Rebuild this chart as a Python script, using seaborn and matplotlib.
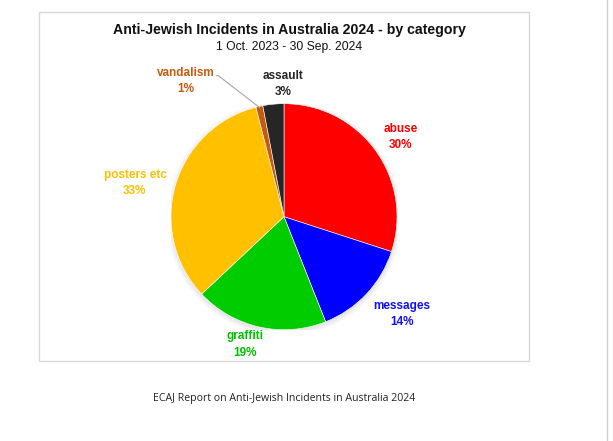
import matplotlib
matplotlib.use("Agg")
import matplotlib.pyplot as plt
import seaborn as sns
import numpy as np
from matplotlib.patches import Rectangle, Circle
from matplotlib.lines import Line2D

# data
categories = ["abuse", "messages", "graffiti", "posters etc", "vandalism", "assault"]
shares = [30, 14, 19, 33, 1, 3]

# styling
slice_colors = ["#FF0000", "#0000FF", "#00CC00", "#FFC000", "#C55A11", "#262626"]
label_colors = ["#FF0000", "#1010FF", "#00C000", "#FFC000", "#C55A11", "#262626"]
# label centres, in pie radius units
label_pos = [(1.035, 0.705), (1.044, -0.86), (-0.345, -1.131),
             (-1.319, 0.301), (-0.87, 1.199), (-0.006, 1.173)]

title = "Anti-Jewish Incidents in Australia 2024 - by category"
subtitle = "1 Oct. 2023 - 30 Sep. 2024"
caption = "ECAJ Report on Anti-Jewish Incidents in Australia 2024"

sns.set_theme(style="white")
plt.rcParams["font.family"] = ["Liberation Sans", "DejaVu Sans"]

W, H = 613, 441
fig = plt.figure(figsize=(W / 100, H / 100), dpi=100)
fig.patch.set_facecolor("white")

# chart frame and the page edge line
fig.add_artist(Rectangle((39 / W, (H - 361) / H), 490 / W, 349 / H, transform=fig.transFigure,
                         fill=False, edgecolor="#d9d9d9", lw=1.0, zorder=-1))
fig.add_artist(Line2D([607 / W, 607 / W], [0, 1], transform=fig.transFigure, color="#d0d0d0", lw=1.0))

fig.text(289 / W, 1 - 30 / H, title, ha="center", va="center", fontsize=10.2, fontweight="bold", color="#111111")
fig.text(289 / W, 1 - 47 / H, subtitle, ha="center", va="center", fontsize=8.7, color="#111111")
fig.text(284 / W, 1 - 399 / H, caption, ha="center", va="center", fontsize=7.6,
         family=["Liberation Sans Narrow", "Open Sans", "DejaVu Sans"], color="#222222")

cx, cy, r = 284, 216.7, 113
ax = fig.add_axes([(cx - r) / W, (H - cy - r) / H, 2 * r / W, 2 * r / H])

# soft shadow
for i in range(8):
    ax.add_patch(Circle((0.0, -0.015), 1.0 + 0.006 * i, color="#808080", alpha=0.025, lw=0, zorder=0))

wedges, _ = ax.pie(shares, colors=slice_colors, startangle=90, counterclock=False, radius=1,
                   wedgeprops=dict(edgecolor="white", linewidth=0.4))
ax.set_xlim(-1, 1)
ax.set_ylim(-1, 1)
ax.axis("off")

for cat, val, col, (lx, ly) in zip(categories, shares, label_colors, label_pos):
    ax.text(lx, ly, f"{cat}\n{val}%", ha="center", va="center", fontsize=8.5, fontweight="bold",
            color=col, linespacing=1.45, clip_on=False)

# leader line for the small vandalism slice
w = wedges[categories.index("vandalism")]
mid = np.deg2rad((w.theta1 + w.theta2) / 2)
ex, ey = 0.99 * np.cos(mid), 0.99 * np.sin(mid)
ax.plot([-0.599, -0.581, ex], [1.248, 1.248, ey], color="#a6a6a6", lw=0.8, clip_on=False)

fig.savefig("out.png", dpi=100)
